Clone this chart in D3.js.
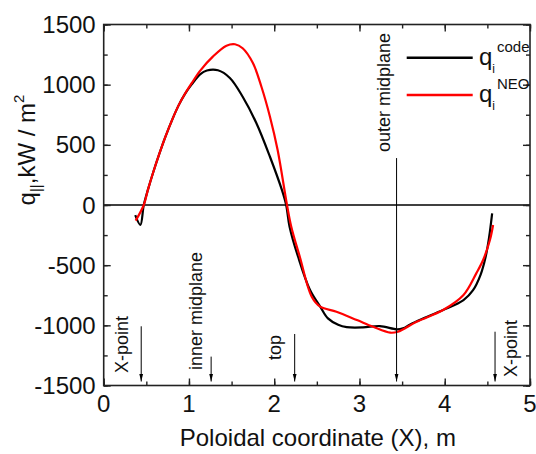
<!DOCTYPE html>
<html>
<head>
<meta charset="utf-8">
<script src="https://cdn.jsdelivr.net/npm/d3@7/dist/d3.min.js"></script>
<style>
  html, body { margin: 0; padding: 0; background: #fff; }
  svg { display: block; font-family: "Liberation Sans", Arial, sans-serif; }
</style>
</head>
<body>
<svg id="chart" width="536" height="454"></svg>
<script>
// Parallel ion heat flux along the poloidal coordinate, code vs NEO.

// Black curve (q_i code)
const codeX = [0.37, 0.43, 0.47, 0.52, 0.58, 0.65, 0.72, 0.81, 0.88, 0.95, 1.03, 1.13, 1.21, 1.34, 1.48, 1.63, 1.79, 1.95, 2.09, 2.14, 2.18, 2.28, 2.42, 2.54, 2.63, 2.75, 2.85, 3.04, 3.24, 3.44, 3.51, 3.6, 3.75, 3.98, 4.22, 4.33, 4.42, 4.48, 4.52, 4.556];
const codeQ = [-85, -165, 0, 130, 270, 420, 560, 720, 830, 920, 1000, 1085, 1118, 1120, 1056, 900, 682, 401, 125, 0, -180, -430, -707, -845, -942, -995, -1015, -1017, -1006, -1033, -1025, -990, -942, -873, -790, -710, -580, -430, -270, -69];

// Red curve (q_i NEO)
const neoX = [0.375, 0.47, 0.52, 0.58, 0.65, 0.72, 0.81, 0.88, 0.95, 1.03, 1.13, 1.28, 1.44, 1.54, 1.63, 1.75, 1.85, 1.95, 2.04, 2.15, 2.2, 2.3, 2.44, 2.54, 2.73, 2.97, 3.16, 3.36, 3.45, 3.67, 3.98, 4.22, 4.37, 4.45, 4.53, 4.567];
const neoQ = [-130, 0, 130, 270, 420, 560, 720, 830, 920, 1010, 1115, 1233, 1324, 1336, 1303, 1180, 983, 734, 457, 0, -180, -430, -762, -845, -887, -956, -1012, -1061, -1053, -970, -873, -748, -568, -457, -291, -166];

// Position markers along X
const markerNames = ['X-point', 'inner midplane', 'top', 'outer midplane', 'X-point'];
const markerX = [0.44, 1.26, 2.24, 3.435, 4.59];
const markerTopQ = [-1008, -1260, -1072, 390, -1053];

const xTicks = [0, 1, 2, 3, 4, 5];
const yTicks = [-1500, -1000, -500, 0, 500, 1000, 1500];

const margin = { left: 103.7, right: 6, top: 24.5, bottom: 68.5 };
const width = 536, height = 454;

const svg = d3.select('#chart');

const x = d3.scaleLinear().domain([0, 5]).range([margin.left, width - margin.right]);
const y = d3.scaleLinear().domain([-1500, 1500]).range([height - margin.bottom, margin.top]);

const x0 = x.range()[0], x1 = x.range()[1];
const y0 = y.range()[0], y1 = y.range()[1];

// Zero line
svg.append('line')
  .attr('x1', x0).attr('x2', x1)
  .attr('y1', y(0)).attr('y2', y(0))
  .attr('stroke', '#000').attr('stroke-width', 1.3);

// Curves
const line = d3.line()
  .x(d => x(d[0])).y(d => y(d[1]))
  .curve(d3.curveCatmullRom.alpha(0.5));
svg.append('path')
  .datum(codeX.map((v, i) => [v, codeQ[i]]))
  .attr('d', line).attr('fill', 'none')
  .attr('stroke', '#000').attr('stroke-width', 2.2).attr('stroke-linejoin', 'round');
svg.append('path')
  .datum(neoX.map((v, i) => [v, neoQ[i]]))
  .attr('d', line).attr('fill', 'none')
  .attr('stroke', '#ff0000').attr('stroke-width', 2.2).attr('stroke-linejoin', 'round');

// Axes: ticks point inward on all four sides
function frameAxis(axis, transform) {
  const g = svg.append('g').attr('transform', transform).call(axis);
  g.select('.domain').remove();
  g.selectAll('line').attr('stroke', '#222').attr('stroke-width', 1.4);
  return g;
}
const xMinor = d3.range(0, 5.01, 0.5);
const yMinor = d3.range(-1500, 1501, 250);

frameAxis(d3.axisBottom(x).tickValues(xMinor).tickSize(-4).tickFormat(''), `translate(0,${y0})`);
frameAxis(d3.axisBottom(x).tickValues(xTicks).tickSize(-7).tickFormat(''), `translate(0,${y0})`);
frameAxis(d3.axisTop(x).tickValues(xMinor).tickSize(-4).tickFormat(''), `translate(0,${y1})`);
frameAxis(d3.axisTop(x).tickValues(xTicks).tickSize(-7).tickFormat(''), `translate(0,${y1})`);
frameAxis(d3.axisLeft(y).tickValues(yMinor).tickSize(-4).tickFormat(''), `translate(${x0},0)`);
frameAxis(d3.axisLeft(y).tickValues(yTicks).tickSize(-7).tickFormat(''), `translate(${x0},0)`);
frameAxis(d3.axisRight(y).tickValues(yMinor).tickSize(-4).tickFormat(''), `translate(${x1},0)`);
frameAxis(d3.axisRight(y).tickValues(yTicks).tickSize(-7).tickFormat(''), `translate(${x1},0)`);

// Tick labels
svg.append('g').selectAll('text').data(xTicks).join('text')
  .attr('x', d => x(d)).attr('y', y0 + 26)
  .attr('text-anchor', 'middle').attr('font-size', 24).attr('fill', '#111')
  .text(d => d);
svg.append('g').selectAll('text').data(yTicks).join('text')
  .attr('x', x0 - 8).attr('y', d => y(d) + 8.5)
  .attr('text-anchor', 'end').attr('font-size', 24).attr('fill', '#111')
  .text(d => d);

// Frame
svg.append('rect')
  .attr('x', x0).attr('y', y1).attr('width', x1 - x0).attr('height', y0 - y1)
  .attr('fill', 'none').attr('stroke', '#222').attr('stroke-width', 1.6);

// Axis titles
svg.append('text')
  .attr('x', (x0 + x1) / 2 + 1).attr('y', 446)
  .attr('text-anchor', 'middle').attr('font-size', 24).attr('fill', '#111')
  .text('Poloidal coordinate (X), m');

const yTitle = svg.append('text')
  .attr('transform', 'translate(35,150) rotate(-90)')
  .attr('text-anchor', 'middle').attr('font-size', 24).attr('fill', '#111');
yTitle.append('tspan').text('q');
yTitle.append('tspan').attr('font-size', 15).attr('dy', 6).text('||');
yTitle.append('tspan').attr('dy', -6).text(',kW / m');
yTitle.append('tspan').attr('font-size', 15).attr('dy', -11).text('2');

// Position markers: arrows with rotated labels
const defs = svg.append('defs');
defs.append('marker')
  .attr('id', 'arrow').attr('viewBox', '0 0 8 8')
  .attr('refX', 8).attr('refY', 4)
  .attr('markerWidth', 8).attr('markerHeight', 8)
  .attr('markerUnits', 'userSpaceOnUse').attr('orient', 'auto')
  .append('path').attr('d', 'M0,2 L8,4 L0,6 Z').attr('fill', '#000');

// label offset from the arrow (dx) and bottom end of label (y), in px
const labelPlace = [
  { dx: -13, y: 373 },
  { dx: -9, y: 370 },
  { dx: -14, y: 360 },
  { dx: -7, y: 152 },
  { dx: 22, y: 377 }
];

markerNames.forEach((name, i) => {
  const ax = x(markerX[i]);
  svg.append('line')
    .attr('x1', ax).attr('x2', ax)
    .attr('y1', y(markerTopQ[i])).attr('y2', y0 - 4)
    .attr('stroke', '#000').attr('stroke-width', 1)
    .attr('marker-end', 'url(#arrow)');
  svg.append('text')
    .attr('transform', `translate(${ax + labelPlace[i].dx},${labelPlace[i].y}) rotate(-90)`)
    .attr('font-size', 18).attr('fill', '#111')
    .text(name);
});

// Legend
const legend = [
  { color: '#000', sup: 'code', y: 57.7 },
  { color: '#ff0000', sup: 'NEO', y: 95 }
];
legend.forEach(d => {
  svg.append('line')
    .attr('x1', 406.7).attr('x2', 472.7)
    .attr('y1', d.y).attr('y2', d.y)
    .attr('stroke', d.color).attr('stroke-width', 2.4);
  const t = svg.append('text')
    .attr('x', 479).attr('y', d.y + 7)
    .attr('font-size', 24).attr('fill', '#111');
  t.append('tspan').text('q');
  t.append('tspan').attr('font-size', 12).attr('dy', 8).text('i');
  t.append('tspan').attr('font-size', 15).attr('x', 497).attr('dy', -21).text(d.sup);
});
</script>
</body>
</html>
